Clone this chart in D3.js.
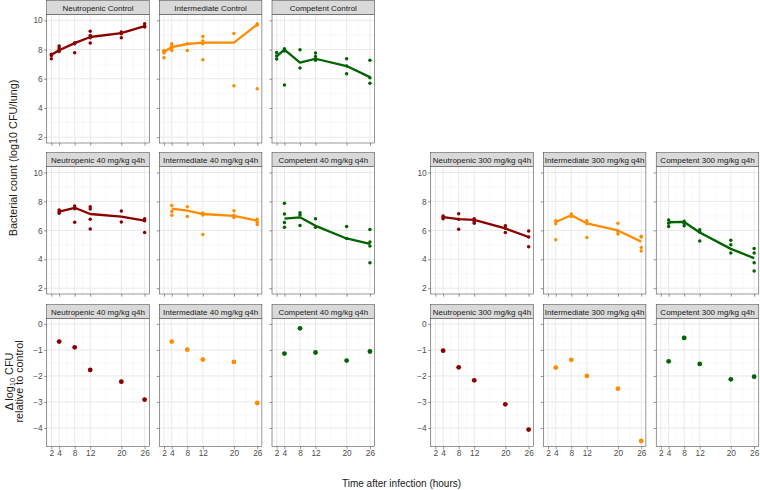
<!DOCTYPE html>
<html><head><meta charset="utf-8">
<script src="https://cdn.jsdelivr.net/npm/d3@7"></script>
<style>body{margin:0;background:#fff}svg{display:block;font-family:"Liberation Sans",Arial,sans-serif}</style>
</head><body><svg id="c" width="760" height="490"></svg>
<script>
// ---------- data ----------
const timeBreaks = [2, 4, 8, 12, 20, 26];
const timeMinor = [1, 3, 6, 10, 16, 23];
const countBreaks = [2, 4, 6, 8, 10];
const countMinor = [3, 5, 7, 9];
const deltaBreaks = [0, -1, -2, -3, -4];
const deltaMinor = [-0.5, -1.5, -2.5, -3.5, -4.5];
const deltaTimes = [4, 8, 12, 20, 26];
const colors = {Neutropenic: "#8B0000", Intermediate: "#FF8C00", Competent: "#006400"};

// raw counts: [time, log10 CFU]
const neutroControlPts = [[2,7.67],[2,7.37],[2,7.6],[4,8.24],[4,8.1],[4,7.99],[4,7.87],[8,8.47],[8,8.4],[8,7.78],[12,9.25],[12,8.97],[12,8.8],[12,8.45],[20,9.2],[20,9.09],[20,8.8],[26,9.77],[26,9.6],[26,9.54]];
const neutroControlMean = [7.64, 7.95, 8.44, 8.86, 9.13, 9.6];
const interControlPts = [[2,7.94],[2,7.85],[2,7.76],[2,7.44],[4,8.4],[4,8.24],[4,8.06],[4,7.94],[8,8.4],[8,7.94],[12,8.9],[12,8.58],[12,8.4],[12,7.3],[20,9.1],[20,5.52],[26,9.77],[26,9.68],[26,5.31]];
const interControlMean = [7.83, 8.17, 8.38, 8.47, 8.47, 9.72];
const compControlPts = [[2,7.8],[2,7.55],[2,7.35],[4,8.06],[4,7.9],[4,5.57],[8,7.99],[8,6.73],[12,7.76],[12,7.53],[12,7.26],[20,7.37],[20,6.87],[20,6.34],[26,7.26],[26,6.07],[26,5.7]];
const compControlMean = [7.53, 7.99, 7.1, 7.37, 6.87, 6.11];

const neutro40Pts = [[4,7.4],[4,7.29],[4,7.18],[8,7.68],[8,7.5],[8,6.56],[12,7.63],[12,7.47],[12,6.77],[12,6.1],[20,7.33],[20,6.58],[26,6.81],[26,6.67],[26,5.85]];
const neutro40Mean = [7.29, 7.56, 7.13, 6.95, 6.67];
const inter40Pts = [[4,7.72],[4,7.31],[4,7.04],[8,7.63],[8,6.95],[12,7.2],[12,7.06],[12,5.72],[20,7.36],[20,7.04],[20,6.88],[26,6.77],[26,6.56],[26,6.4]];
const inter40Mean = [7.5, 7.36, 7.13, 7.0, 6.67];
const comp40Pts = [[4,7.88],[4,7.13],[4,6.54],[4,6.22],[8,7.22],[8,7.06],[8,6.33],[12,6.81],[12,6.22],[20,6.26],[20,5.44],[26,6.06],[26,5.19],[26,4.92],[26,3.76]];
const comp40Mean = [6.81, 6.9, 6.31, 5.44, 5.06];

const neutro300Pts = [[4,7.0],[4,6.9],[4,6.81],[8,7.15],[8,6.77],[8,6.08],[12,6.81],[12,6.61],[12,6.49],[20,6.31],[20,6.15],[20,5.85],[26,5.95],[26,5.54],[26,4.87]];
const neutro300Mean = [6.92, 6.77, 6.72, 6.13, 5.54];
const inter300Pts = [[4,6.67],[4,6.45],[4,5.35],[8,7.13],[8,6.95],[12,6.67],[12,6.45],[12,5.51],[20,6.49],[20,5.92],[20,5.74],[26,5.6],[26,5.54],[26,4.81],[26,4.58]];
const inter300Mean = [6.58, 7.04, 6.49, 5.99, 5.22];
const comp300Pts = [[4,6.72],[4,6.49],[4,6.26],[8,6.63],[8,6.49],[8,6.31],[12,6.04],[12,5.88],[12,5.26],[20,5.31],[20,5.01],[20,4.44],[26,4.74],[26,4.44],[26,3.76],[26,3.19]];
const comp300Mean = [6.56, 6.58, 5.85, 4.72, 4.08];

// delta log10 CFU relative to control
const neutro40Delta = [-0.68, -0.9, -1.77, -2.22, -2.91];
const inter40Delta = [-0.68, -0.99, -1.37, -1.46, -3.04];
const comp40Delta = [-1.14, -0.17, -1.1, -1.41, -1.06];
const neutro300Delta = [-1.03, -1.67, -2.17, -3.09, -4.06];
const inter300Delta = [-1.68, -1.38, -2.0, -2.49, -4.5];
const comp300Delta = [-1.44, -0.54, -1.54, -2.13, -2.03];

// ---------- layout ----------
const svg = d3.select("#c");
const colX = [46.7, 159.3, 272, 430.7, 543.3, 656.2];
const panelW = 102.6;
const stripH = 14;
const rows = [
  {top: 0.5, bottom: 143, domain: [1.6, 10.4], breaks: countBreaks, minor: countMinor},
  {top: 152.7, bottom: 294, domain: [1.6, 10.4], breaks: countBreaks, minor: countMinor},
  {top: 304.7, bottom: 446.7, domain: [-4.72, 0.2], breaks: deltaBreaks, minor: deltaMinor}
];

function panel(col, rowIdx, title, color, opts) {
  const r = rows[rowIdx];
  const x0 = colX[col], x1 = x0 + panelW;
  const py0 = r.top + stripH, py1 = r.bottom;
  const x = d3.scaleLinear().domain([0.8, 27.2]).range([x0, x1]);
  const y = d3.scaleLinear().domain(r.domain).range([py1, py0]);
  const g = svg.append("g");
  // grid
  g.selectAll(".vmin").data(timeMinor).join("line")
    .attr("x1", d => x(d)).attr("x2", d => x(d)).attr("y1", py0).attr("y2", py1)
    .attr("stroke", "#F0F0F0").attr("stroke-width", 0.5);
  g.selectAll(".hmin").data(r.minor).join("line")
    .attr("y1", d => y(d)).attr("y2", d => y(d)).attr("x1", x0).attr("x2", x1)
    .attr("stroke", "#F0F0F0").attr("stroke-width", 0.5);
  g.selectAll(".vmaj").data(timeBreaks).join("line")
    .attr("x1", d => x(d)).attr("x2", d => x(d)).attr("y1", py0).attr("y2", py1)
    .attr("stroke", "#E6E6E6").attr("stroke-width", 0.9);
  g.selectAll(".hmaj").data(r.breaks).join("line")
    .attr("y1", d => y(d)).attr("y2", d => y(d)).attr("x1", x0).attr("x2", x1)
    .attr("stroke", "#E6E6E6").attr("stroke-width", 0.9);
  // data
  if (opts.mean) {
    const times = opts.times;
    g.append("path").datum(opts.mean.map((v, i) => [times[i], v]))
      .attr("d", d3.line().x(d => x(d[0])).y(d => y(d[1])))
      .attr("fill", "none").attr("stroke", color).attr("stroke-width", 2.3)
      .attr("stroke-linejoin", "round");
  }
  if (opts.pts) {
    g.selectAll(".pt").data(opts.pts).join("circle")
      .attr("cx", d => x(d[0])).attr("cy", d => y(d[1])).attr("r", 1.75).attr("fill", color);
  }
  if (opts.delta) {
    g.selectAll(".dp").data(opts.delta.map((v, i) => [deltaTimes[i], v])).join("circle")
      .attr("cx", d => x(d[0])).attr("cy", d => y(d[1])).attr("r", 2.4).attr("fill", color);
  }
  // border
  g.append("rect").attr("x", x0).attr("y", py0).attr("width", panelW).attr("height", py1 - py0)
    .attr("fill", "none").attr("stroke", "#333").attr("stroke-width", 0.5);
  // strip
  g.append("rect").attr("x", x0).attr("y", r.top).attr("width", panelW).attr("height", stripH)
    .attr("fill", "#D9D9D9").attr("stroke", "#333").attr("stroke-width", 0.5);
  g.append("text").attr("x", x0 + panelW / 2).attr("y", r.top + stripH / 2 + 3)
    .attr("text-anchor", "middle").attr("font-size", 8).attr("fill", "#1A1A1A").text(title);
  // axes
  const ay = g.append("g").attr("transform", `translate(${x0},0)`)
    .call(d3.axisLeft(y).tickValues(r.breaks).tickSize(2.7).tickPadding(1.3)
      .tickFormat(opts.yLabels ? d3.format("d") : ""));
  const ax = g.append("g").attr("transform", `translate(0,${py1})`)
    .call(d3.axisBottom(x).tickValues(timeBreaks).tickSize(2.7).tickPadding(0.6)
      .tickFormat(rowIdx === 2 ? d3.format("d") : ""));
  [ay, ax].forEach(a => {
    a.select(".domain").remove();
    a.selectAll(".tick line").attr("stroke", "#333").attr("stroke-width", 0.5);
    a.selectAll(".tick text").attr("fill", "#4D4D4D").attr("font-size", 8.3)
      .attr("font-family", '"Liberation Sans",Arial,sans-serif');
  });
}

const C = colors;
panel(0, 0, "Neutropenic Control", C.Neutropenic, {pts: neutroControlPts, mean: neutroControlMean, times: timeBreaks, yLabels: true});
panel(1, 0, "Intermediate Control", C.Intermediate, {pts: interControlPts, mean: interControlMean, times: timeBreaks});
panel(2, 0, "Competent Control", C.Competent, {pts: compControlPts, mean: compControlMean, times: timeBreaks});

panel(0, 1, "Neutropenic 40 mg/kg q4h", C.Neutropenic, {pts: neutro40Pts, mean: neutro40Mean, times: deltaTimes, yLabels: true});
panel(1, 1, "Intermediate 40 mg/kg q4h", C.Intermediate, {pts: inter40Pts, mean: inter40Mean, times: deltaTimes});
panel(2, 1, "Competent 40 mg/kg q4h", C.Competent, {pts: comp40Pts, mean: comp40Mean, times: deltaTimes});
panel(3, 1, "Neutropenic 300 mg/kg q4h", C.Neutropenic, {pts: neutro300Pts, mean: neutro300Mean, times: deltaTimes, yLabels: true});
panel(4, 1, "Intermediate 300 mg/kg q4h", C.Intermediate, {pts: inter300Pts, mean: inter300Mean, times: deltaTimes});
panel(5, 1, "Competent 300 mg/kg q4h", C.Competent, {pts: comp300Pts, mean: comp300Mean, times: deltaTimes});

panel(0, 2, "Neutropenic 40 mg/kg q4h", C.Neutropenic, {delta: neutro40Delta, yLabels: true});
panel(1, 2, "Intermediate 40 mg/kg q4h", C.Intermediate, {delta: inter40Delta});
panel(2, 2, "Competent 40 mg/kg q4h", C.Competent, {delta: comp40Delta});
panel(3, 2, "Neutropenic 300 mg/kg q4h", C.Neutropenic, {delta: neutro300Delta, yLabels: true});
panel(4, 2, "Intermediate 300 mg/kg q4h", C.Intermediate, {delta: inter300Delta});
panel(5, 2, "Competent 300 mg/kg q4h", C.Competent, {delta: comp300Delta});

// axis titles
svg.append("text").attr("transform", "translate(16.5,158) rotate(-90)")
  .attr("text-anchor", "middle").attr("font-size", 10.8).attr("fill", "#1A1A1A")
  .text("Bacterial count (log10 CFU/lung)");
const dt = svg.append("text").attr("transform", "translate(0,381.5) rotate(-90)")
  .attr("text-anchor", "middle").attr("font-size", 10.8).attr("fill", "#1A1A1A");
const l1 = dt.append("tspan").attr("x", 0).attr("y", 12.8);
l1.append("tspan").text("Δ log");
l1.append("tspan").attr("font-size", 7.5).attr("dy", 2).text("10");
l1.append("tspan").attr("dy", -2).text(" CFU");
dt.append("tspan").attr("x", 0).attr("y", 22.8).text("relative to control");
svg.append("text").attr("x", 401.5).attr("y", 486.5).attr("text-anchor", "middle")
  .attr("font-size", 10).attr("fill", "#1A1A1A").text("Time after infection (hours)");
</script></body></html>
